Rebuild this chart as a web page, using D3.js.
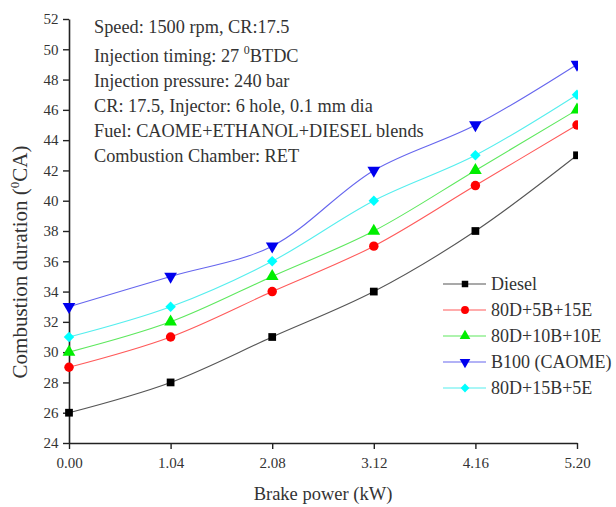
<!DOCTYPE html>
<html>
<head>
<meta charset="utf-8">
<script src="https://cdn.jsdelivr.net/npm/d3@7"></script>
<style>
  body { margin: 0; background: #fff; }
  svg { display: block; font-family: "Liberation Serif", "Times New Roman", serif; }
</style>
</head>
<body>
<div id="chart"></div>
<script>
// data
var power = [0, 1.04, 2.08, 3.12, 4.16, 5.20];
var diesel = [26, 28, 31, 34, 38, 43];
var d80b5e15 = [29, 31, 34, 37, 41, 45];
var d80b10e10 = [30, 32, 35, 38, 42, 46];
var b100 = [33, 35, 37, 42, 45, 49];
var d80b15e5 = [31, 33, 36, 40, 43, 47];
var seriesNames = ["Diesel", "80D+5B+15E", "80D+10B+10E", "B100 (CAOME)", "80D+15B+5E"];
var yTicks = d3.range(24, 53, 2);
var notes = [
  "Speed: 1500 rpm, CR:17.5",
  "Injection timing: 27 |0|BTDC",
  "Injection pressure: 240 bar",
  "CR: 17.5, Injector: 6 hole, 0.1 mm dia",
  "Fuel: CAOME+ETHANOL+DIESEL blends",
  "Combustion Chamber: RET"
];

var W = 616, H = 507;
var margin = {top: 19, right: 39, bottom: 64, left: 69};

var styles = [
  {fill: "#000000", line: "#555555", sym: d3.symbolSquare, rot: 0, size: 60},
  {fill: "#ff0000", line: "#ff5a5a", sym: d3.symbolCircle, rot: 0, size: 70},
  {fill: "#00ee00", line: "#5ee85e", sym: d3.symbolTriangle, rot: 0, size: 70},
  {fill: "#0000ee", line: "#6666ee", sym: d3.symbolTriangle, rot: 180, size: 70},
  {fill: "#00ffff", line: "#55eeee", sym: d3.symbolSquare, rot: 45, size: 55}
];

var series = [diesel, d80b5e15, d80b10e10, b100, d80b15e5].map(function(v, i){
  return {name: seriesNames[i], style: styles[i], values: v.map(function(d, j){ return {x: power[j], y: d}; })};
});

var x = d3.scaleLinear().domain([0, 5.2]).range([margin.left, W - margin.right]);
var y = d3.scaleLinear().domain([24, 52]).range([H - margin.bottom, margin.top]);

var svg = d3.select("#chart").append("svg")
    .attr("width", W)
    .attr("height", H);

svg.append("clipPath").attr("id", "clip")
  .append("rect")
    .attr("x", 0).attr("y", 0)
    .attr("width", x(5.2) + 1).attr("height", H);

// axes
var xAxis = d3.axisBottom(x).tickValues(power).tickFormat(d3.format(".2f")).tickSize(6).tickSizeOuter(0);
var xMinor = d3.axisBottom(x).tickValues(power.slice(0, -1).map(function(d){ return d + 0.52; })).tickFormat("").tickSize(4).tickSizeOuter(0);
var yAxis = d3.axisLeft(y).tickValues(yTicks).tickSize(6).tickSizeOuter(0);
var yMinor = d3.axisLeft(y).tickValues(d3.range(25, 52, 2)).tickFormat("").tickSize(4).tickSizeOuter(0);

var gx = svg.append("g").attr("transform", "translate(0," + y(24) + ")");
gx.call(xMinor);
gx.call(xAxis);
var gy = svg.append("g").attr("transform", "translate(" + x(0) + ",0)");
gy.call(yMinor);
gy.call(yAxis);

svg.selectAll(".domain").attr("stroke", "#222").attr("stroke-width", 1.6);
svg.selectAll(".tick line").attr("stroke", "#222").attr("stroke-width", 1.4);
svg.selectAll(".tick text")
    .attr("font-size", 15)
    .attr("font-family", "Liberation Serif")
    .attr("fill", "#333");
gx.selectAll(".tick text").attr("dy", "1.05em");
gy.selectAll(".tick text").attr("dx", "-0.1em");

// lines + markers
var line = d3.line()
    .x(function(d){ return x(d.x); })
    .y(function(d){ return y(d.y); })
    .curve(d3.curveCatmullRom);

var plot = svg.append("g").attr("clip-path", "url(#clip)");

plot.selectAll("path.series")
    .data(series)
  .enter().append("path")
    .attr("class", "series")
    .attr("fill", "none")
    .attr("stroke", function(d){ return d.style.line; })
    .attr("stroke-width", 1.1)
    .attr("d", function(d){ return line(d.values); });

series.forEach(function(s){
  plot.selectAll(null)
      .data(s.values)
    .enter().append("path")
      .attr("d", d3.symbol().type(s.style.sym).size(s.style.size))
      .attr("fill", s.style.fill)
      .attr("transform", function(d){
        return "translate(" + x(d.x) + "," + y(d.y) + ") rotate(" + s.style.rot + ")";
      });
});

// axis titles
svg.append("text")
    .attr("x", x(2.6))
    .attr("y", 500)
    .attr("text-anchor", "middle")
    .attr("font-size", 18.5)
    .attr("fill", "#333")
    .text("Brake power (kW)");

var yt = svg.append("text")
    .attr("transform", "translate(27," + 262 + ") rotate(-90)")
    .attr("text-anchor", "middle")
    .attr("font-size", 21)
    .attr("fill", "#333");
yt.append("tspan").text("Combustion duration (");
yt.append("tspan").attr("font-size", 13).attr("dy", -8).text("0");
yt.append("tspan").attr("dy", 8).text("CA)");

// notes
var noteY = [33, 62, 87, 112, 137, 162];
notes.forEach(function(n, i){
  var t = svg.append("text")
      .attr("x", 94)
      .attr("y", noteY[i])
      .attr("font-size", 18.3)
      .attr("fill", "#333");
  var parts = n.split("|");
  if (parts.length === 1) {
    t.text(n);
  } else {
    t.append("tspan").text(parts[0]);
    t.append("tspan").attr("font-size", 12).attr("dy", -8).text(parts[1]);
    t.append("tspan").attr("dy", 8).text(parts[2]);
  }
});

// legend
var legend = svg.append("g");
var lg = legend.selectAll("g")
    .data(series)
  .enter().append("g")
    .attr("transform", function(d, i){ return "translate(443," + (284 + i * 26) + ")"; });
lg.append("line")
    .attr("x1", 0).attr("x2", 43)
    .attr("stroke", function(d){ return d.style.line; })
    .attr("stroke-width", 1.1);
lg.append("path")
    .attr("d", function(d){ return d3.symbol().type(d.style.sym).size(d.style.size * 0.7)(); })
    .attr("fill", function(d){ return d.style.fill; })
    .attr("transform", function(d){ return "translate(22,0) rotate(" + d.style.rot + ")"; });
lg.append("text")
    .attr("x", 48)
    .attr("dy", "0.33em")
    .attr("font-size", 18)
    .attr("fill", "#333")
    .text(function(d){ return d.name; });
</script>
</body>
</html>
